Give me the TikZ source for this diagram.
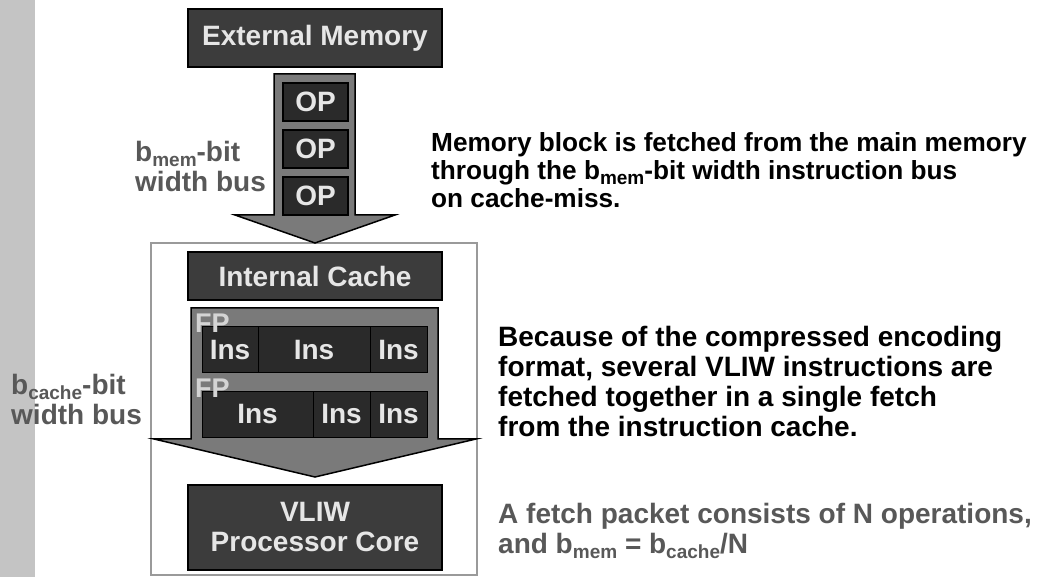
\documentclass[tikz,border=0pt]{standalone}
\usepackage{fontspec}
\setmainfont{Liberation Sans}
\usetikzlibrary{calc}

% colours of the fetch-path figure
\definecolor{boxdark}{HTML}{3C3C3C}
\definecolor{slotdark}{HTML}{2A2A2A}
\definecolor{busgray}{HTML}{7A7A7A}
\definecolor{labelgray}{HTML}{585858}
\definecolor{boxtext}{HTML}{E6E6E6}
\definecolor{fptext}{HTML}{D4D4D4}
\definecolor{stripgray}{HTML}{C4C4C4}
\definecolor{framegray}{HTML}{9A9A9A}

% lowered subscript used in the bus-width names
\newcommand\lowsub[1]{\raisebox{-5pt}{\fontsize{19}{19}\selectfont #1}}
% left-aligned block of lines whose baseline is the first line
\newcommand\textlines[1]{\begin{tabular}[t]{@{}l@{}}#1\end{tabular}}

\tikzset{
  unitbox/.style={draw=black, line width=1.8pt, fill=boxdark, text=boxtext,
    font=\fontsize{28}{30}\selectfont\bfseries, inner sep=0pt, align=center},
  opbox/.style={draw=black, line width=1.2pt, fill=slotdark, text=boxtext,
    font=\fontsize{28}{30}\selectfont\bfseries, inner sep=0pt,
    minimum width=65pt, minimum height=38pt},
  insbox/.style={draw=black, line width=1pt, fill=slotdark, text=boxtext,
    font=\fontsize{28}{30}\selectfont\bfseries, inner sep=0pt, minimum height=46pt},
  busarrow/.style={draw=black, line width=1.5pt, fill=busgray, line join=miter},
  fplabel/.style={text=fptext, font=\fontsize{27}{27}\selectfont\bfseries,
    inner sep=0pt, anchor=base west},
  buslabel/.style={text=labelgray, font=\fontsize{28}{30}\selectfont\bfseries,
    inner sep=0pt, anchor=base west},
  note/.style={text=black, font=\fontsize{28}{30}\selectfont\bfseries,
    inner sep=0pt, anchor=base west},
}

\begin{document}
\begin{tikzpicture}[x=1pt, y=-1pt]
\useasboundingbox (0,0) rectangle (1037,577);
\fill[white] (0,0) rectangle (1037,577);

% side strip
\fill[stripgray] (0,0) rectangle (35,577);

% on-chip frame
\draw[framegray, line width=1.5pt] (151,243) rectangle (477,575);

% memory bus arrow
\draw[busarrow] (274,74) -- (355,74) -- (355,215) -- (395,215) -- (315,243)
  -- (235,215) -- (274,215) -- cycle;

% external memory
\node[unitbox, minimum width=254pt, minimum height=58pt] (extmem) at (315,38)
  {External Memory};

% operations on the memory bus
\node[opbox] (op1) at (315.5,102) {OP};
\node[opbox] (op2) at (315.5,149) {OP};
\node[opbox] (op3) at (315.5,196) {OP};

% cache bus arrow
\draw[busarrow] (191,308) -- (438,308) -- (438,439) -- (476,439) -- (315,477)
  -- (154,439) -- (191,439) -- cycle;

% internal cache
\node[unitbox, minimum width=254pt, minimum height=48pt] (cache) at (315,276)
  {Internal Cache};

% first fetch packet
\node[insbox, minimum width=56pt]  (ia1) at (230,350) {Ins};
\node[insbox, minimum width=112pt] (ia2) at (314,350) {Ins};
\node[insbox, minimum width=57pt]  (ia3) at (398.5,350) {Ins};
% second fetch packet
\node[insbox, minimum width=111pt] (ib1) at (257.5,414.5) {Ins};
\node[insbox, minimum width=57pt]  (ib2) at (341.5,414.5) {Ins};
\node[insbox, minimum width=57pt]  (ib3) at (398.5,414.5) {Ins};

\node[fplabel] (fpa) at (195,333) {FP};
\node[fplabel] (fpb) at (195,398) {FP};

% processor core
\node[unitbox, minimum width=254pt, minimum height=85pt] (core) at (315,527.5)
  {VLIW\\Processor Core};

% bus width labels
\node[buslabel] (bmem) at (135,162)
  {\textlines{b\lowsub{mem}-bit\\width bus}};
\node[buslabel] (bcache) at (11,395)
  {\textlines{b\lowsub{cache}-bit\\width bus}};

% explanatory notes
\node[note, font=\fontsize{26.2}{28}\selectfont\bfseries] (fetchnote) at (431,152)
  {\textlines{Memory block is fetched from the main memory\\
    through the b\lowsub{mem}-bit width instruction bus\\
    on cache-miss.}};
\node[note] (packnote) at (498,347)
  {\textlines{Because of the compressed encoding\\
    format, several VLIW instructions are\\
    fetched together in a single fetch\\
    from the instruction cache.}};
\node[note, text=labelgray] (sizenote) at (498,523)
  {\textlines{A fetch packet consists of N operations,\\
    and b\lowsub{mem} = b\lowsub{cache}/N}};
\end{tikzpicture}
\end{document}
